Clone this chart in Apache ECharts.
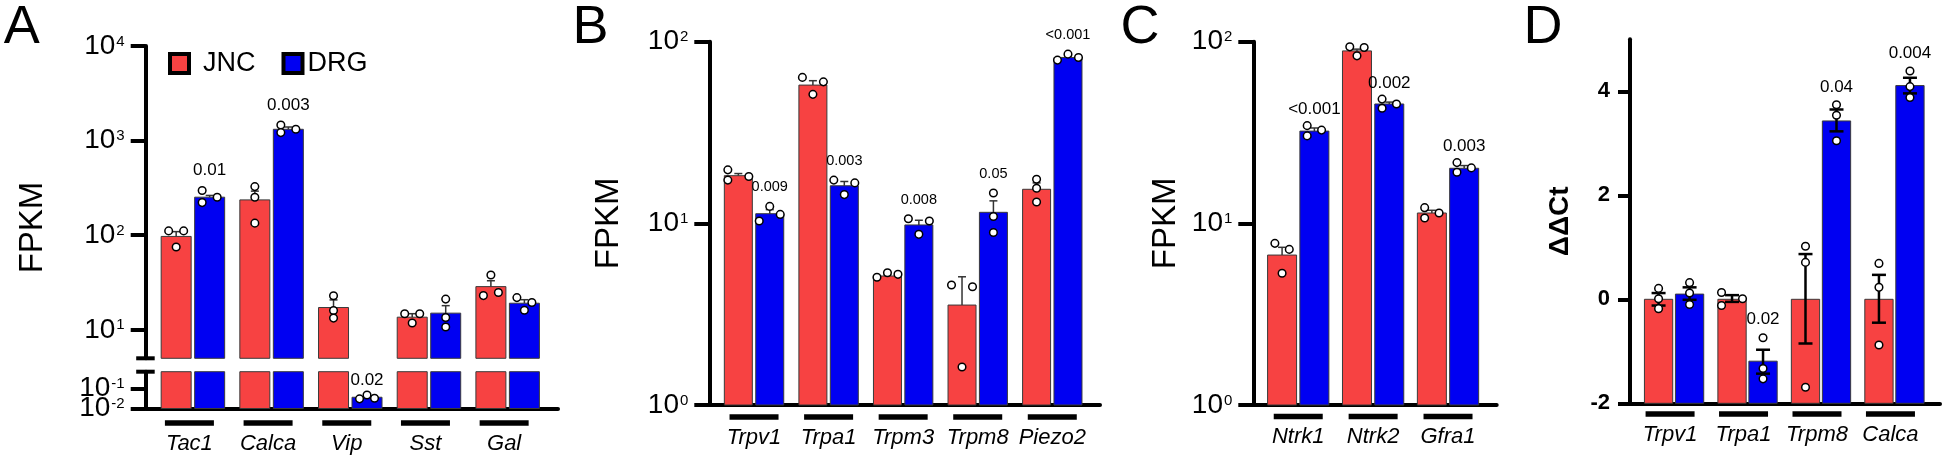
<!DOCTYPE html>
<html><head><meta charset="utf-8">
<script src="https://cdn.jsdelivr.net/npm/echarts@6/dist/echarts.min.js"></script>
<style>html,body{margin:0;padding:0;background:#fff}#c{width:1946px;height:458px}</style>
</head><body><div id="c"></div>
<script>
// ---------------- DATA ----------------
// Panel A (FPKM, broken log axis)
const catsA = ['Tac1', 'Calca', 'Vip', 'Sst', 'Gal'];
const jncA = [97, 236, 17.2, 13.6, 28.6];
const drgA = [252, 1315, 0.036, 15.0, 19.1];
const jncPtsA = [[111, 75, 111], [326, 252, 134], [22.9, 16.0, 13.3], [14.8, 11.8, 14.8], [23.0, 38.0, 24.8]];
const drgPtsA = [[296, 221, 252], [1462, 1213, 1315], [0.030, 0.047, 0.032], [21.1, 13.5, 10.7], [21.9, 16.1, 19.4]];
const jncErrA = [109, 292, 20.7, 14.8, 33];
const drgErrA = [263, 1390, 0.041, 18, 20.8];
const pA = ['0.01', '0.003', '0.02', '', ''];
const ticksA = [10, 100, 1000, 10000];
const ticksAlow = [0.0100001, 0.1];

// Panel B (FPKM, log)
const catsB = ['Trpv1', 'Trpa1', 'Trpm3', 'Trpm8', 'Piezo2'];
const jncB = [18.3, 57.7, 5.13, 3.55, 15.4];
const drgB = [11.3, 16.1, 9.8, 11.5, 81.9];
const jncPtsB = [[19.7, 17.3, 18.1], [63.6, 51.3, 60.1], [5.05, 5.35, 5.24], [4.58, 1.62, 4.48], [17.5, 15.6, 13.1]];
const drgPtsB = [[10.3, 12.4, 11.2], [17.3, 14.4, 16.7], [10.6, 8.7, 10.3], [14.7, 10.9, 8.9], [79.2, 85.4, 81.9]];
const jncErrB = [18.8, 61, 5.2, 5.08, 16.7];
const drgErrB = [11.9, 17.0, 10.4, 13.3, 83.5];
const pB = ['0.009', '0.003', '0.008', '0.05', '<0.001'];
const ticksB = [1, 10, 100];

// Panel C (FPKM, log)
const catsC = ['Ntrk1', 'Ntrk2', 'Gfra1'];
const jncC = [6.69, 89, 11.4];
const drgC = [32.2, 45.4, 20.1];
const jncPtsC = [[7.76, 5.31, 7.19], [93.7, 83.6, 93.0], [12.2, 10.7, 11.4]];
const drgPtsC = [[34.5, 30.3, 32.6], [48.3, 43.0, 45.4], [21.6, 19.1, 20.2]];
const jncErrC = [7.38, 91, 11.8];
const drgErrC = [33.5, 46.5, 20.8];
const pC = ['<0.001', '0.002', '0.003'];
const ticksC = [1, 10, 100];

// Panel D (ΔΔCt, linear)
const catsD = ['Trpv1', 'Trpa1', 'Trpm8', 'Calca'];
const jncD = [0, 0, 0, 0];
const drgD = [0.10, -1.19, 3.43, 4.11];
const jncPtsD = [[0.21, 0.01, -0.18], [0.13, -0.12, 0.01], [1.02, 0.71, -1.69], [0.69, 0.23, -0.88]];
const drgPtsD = [[0.32, 0.12, -0.10], [-0.74, -1.33, -1.53], [3.74, 3.54, 3.05], [4.39, 4.09, 3.88]];
const jncErrD = [[-0.12, 0.12], [-0.05, 0.08], [-0.85, 0.87], [-0.45, 0.47]];
const drgErrD = [[-0.01, 0.23], [-1.43, -0.97], [3.23, 3.65], [3.96, 4.26]];
const pD = ['', '0.02', '0.04', '0.004'];
const ticksD = [-2, 0, 2, 4];

// point placement within bar: -1 left, 0 centre, 1 right
const jncSlotsA = [[-1, 0, 1], [0, 0, 0], [0, 0, 0], [-1, 0, 1], [-1, 0, 1]];
const drgSlotsA = [[-1, -1, 1], [-1, -1, 1], [-1, 0, 1], [0, 0, 0], [-1, 0, 1]];
const jncSlotsB = [[-1, -1, 1], [-1, 0, 1], [-1, 0, 1], [-1, 0, 1], [0, 0, 0]];
const drgSlotsB = [[-1, 0, 1], [-1, 0, 1], [-1, 0, 1], [0, 0, 0], [-1, 0, 1]];
const jncSlotsC = [[-1, 0, 1], [-1, 0, 1], [-1, -1, 1]];
const drgSlotsC = [[-1, -1, 1], [-1, -1, 1], [-1, -1, 1]];
const jncSlotsD = [[0, 0, 0], [-1, -1, 1], [0, 0, 0], [0, 0, 0]];
const drgSlotsD = [[0, 0, 0], [0, 0, 0], [0, 0, 0], [0, 0, 0]];

// ---------------- STYLE / LAYOUT ----------------
const FONT = '"Liberation Sans", Arial, Helvetica, sans-serif';
const RED = '#F74242', BLUE = '#0000F2';

const panels = [
  { cats: catsA, jnc: jncA, drg: drgA, jncPts: jncPtsA, drgPts: drgPtsA, jncSlots: jncSlotsA, drgSlots: drgSlotsA,
    jncErr: jncErrA, drgErr: drgErrA, p: pA, log: true,
    xMin: -0.6, xMax: 4.64, barW: 30, gap: 3.5, spread: 7.5, pFont: 17,
    ulOff: 14.5, labOff: 35, labShift: -3.5, tickLen: 15,
    grids: [
      { left: 145.7, top: 45.9, width: 412.3, height: 312.4, yMin: 5, yMax: 10000, ticks: ticksA, labels: ticksA, xLine: false, capBottom: true, pOff: 20 },
      { left: 145.7, top: 371.7, width: 412.3, height: 36.8, yMin: 0.01, yMax: 0.664, ticks: ticksAlow, labels: [ticksAlow[0]], extraLabels: [ticksAlow[1]], xLine: true, capTop: true, pOff: 15 }
    ] },
  { cats: catsB, jnc: jncB, drg: drgB, jncPts: jncPtsB, drgPts: drgPtsB, jncSlots: jncSlotsB, drgSlots: drgSlotsB,
    jncErr: jncErrB, drgErr: drgErrB, p: pB, log: true,
    xMin: -0.6, xMax: 4.64, barW: 28, gap: 3.4, spread: 10.5, pFont: 14.5,
    ulOff: 12, labOff: 33.3, labShift: 0, tickLen: 15, name: 'FPKM', nameGap: 84,
    grids: [{ left: 709.3, top: 41.7, width: 390.7, height: 363.3, yMin: 1, yMax: 100, ticks: ticksB, labels: ticksB, xLine: true, pOff: 19 }] },
  { cats: catsC, jnc: jncC, drg: drgC, jncPts: jncPtsC, drgPts: drgPtsC, jncSlots: jncSlotsC, drgSlots: drgSlotsC,
    jncErr: jncErrC, drgErr: drgErrC, p: pC, log: true,
    xMin: -0.6, xMax: 2.65, barW: 29, gap: 3.3, spread: 7.2, pFont: 17,
    ulOff: 11.5, labOff: 31.7, labShift: 0, tickLen: 15, name: 'FPKM', nameGap: 71,
    grids: [{ left: 1253.3, top: 41.7, width: 243.4, height: 363.3, yMin: 1, yMax: 100, ticks: ticksC, labels: ticksC, xLine: true, pOff: 16 }] },
  { cats: catsD, jnc: jncD, drg: drgD, jncPts: jncPtsD, drgPts: drgPtsD, jncSlots: jncSlotsD, drgSlots: drgSlotsD,
    jncErr: jncErrD, drgErr: drgErrD, p: pD, log: false,
    xMin: -0.6, xMax: 3.62, barW: 28.3, gap: 2.7, spread: 10.5, pFont: 17,
    ulOff: 10.7, labOff: 31.7, labShift: -4, tickLen: 12, name: 'ΔΔCt', nameGap: 56,
    grids: [{ left: 1630, top: 39.3, width: 310, height: 364, yMin: -2, yMax: 5, ticks: ticksD, labels: ticksD, xLine: true, pOff: 18 }] }
];

// ---------------- BUILD ----------------
const option = { animation: false, backgroundColor: '#fff', grid: [], xAxis: [], yAxis: [], series: [] };
const empty = { type: 'group', children: [] };

function inRange(v, g) { return v >= g.yMin - 1e-9 && v <= g.yMax + 1e-9; }
function clampV(v, g) { return Math.min(Math.max(v, g.yMin), g.yMax); }

function makeYAxis(P, g, gi, labels, showLine, showTicks) {
  const y = {
    type: P.log ? 'log' : 'value', gridIndex: gi, position: 'left', offset: 0, min: g.yMin, max: g.yMax, logBase: 10,
    axisLine: { show: showLine, onZero: false, lineStyle: { color: '#000', width: 4 } },
    axisTick: { show: showTicks, customValues: g.ticks, length: P.tickLen, lineStyle: { color: '#000', width: 4 } },
    splitLine: { show: false },
    axisLabel: {
      show: true, customValues: labels, margin: P.log ? 21 : 20, color: '#000', fontFamily: FONT,
      hideOverlap: false, showMinLabel: true, showMaxLabel: true
    }
  };
  if (!P.log) { y.interval = 2; }
  if (P.log) {
    y.axisLabel.formatter = v => '{b|10}{s|' + Math.round(Math.log10(v)) + '}';
    y.axisLabel.rich = {
      b: { fontSize: 28, fontFamily: FONT, color: '#000' },
      s: { fontSize: 15, fontFamily: FONT, color: '#000', verticalAlign: 'top', padding: [2, 0, 0, 1] }
    };
  } else {
    y.axisLabel.fontSize = 22; y.axisLabel.fontWeight = 'bold';
  }
  return y;
}

panels.forEach(P => {
  P.grids.forEach(g => {
    const gi = option.grid.length;
    option.grid.push({ left: g.left, top: g.top, width: g.width, height: g.height, containLabel: false, outerBoundsMode: 'none' });
    const xi = option.xAxis.length;
    option.xAxis.push({
      type: 'value', gridIndex: gi, position: 'bottom', min: P.xMin, max: P.xMax,
      axisLine: { show: g.xLine, onZero: false, lineStyle: { color: '#000', width: 4 } },
      axisTick: { show: false }, axisLabel: { show: false }, splitLine: { show: false }
    });
    const yi = option.yAxis.length;
    const y = makeYAxis(P, g, gi, g.labels, true, true);
    if (P.name) {
      y.name = P.name; y.nameLocation = 'middle'; y.nameGap = P.nameGap; y.nameRotate = 90;
      y.nameTextStyle = { fontSize: P.log ? 33 : 28, fontWeight: P.log ? 'normal' : 'bold', color: '#000', fontFamily: FONT };
    }
    option.yAxis.push(y);
    if (g.extraLabels) {
      // second label-only axis (same side, same scale) so both squeezed tick labels are shown
      option.yAxis.push(makeYAxis(P, g, gi, g.extraLabels, false, false));
    }

    const off = P.gap / 2 + P.barW / 2;
    const axes = { xAxisIndex: xi, yAxisIndex: yi };

    // bars
    [['JNC', RED, P.jnc, -1], ['DRG', BLUE, P.drg, 1]].forEach(([name, color, vals, sign]) => {
      option.series.push(Object.assign({
        type: 'custom', name, z: 2, itemStyle: { color },
        data: vals.map((v, i) => [i, v]),
        renderItem(params, api) {
          const i = api.value(0), v = api.value(1);
          const vc = clampV(v, g);
          if (vc <= g.yMin) return empty;
          const top = api.coord([i, vc]), base = api.coord([i, g.yMin]);
          const cx = top[0] + sign * off;
          return { type: 'rect', shape: { x: cx - P.barW / 2, y: top[1], width: P.barW, height: base[1] - top[1] },
            style: { fill: color, stroke: '#3a3a3a', lineWidth: 1 } };
        }
      }, axes));
    });

    // error bars
    [[P.jncErr, P.jnc, -1], [P.drgErr, P.drg, 1]].forEach(([errs, means, sign]) => {
      const data = errs.map((e, i) => P.log ? [i, means[i], e, 0] : [i, e[0], e[1], 1]);
      option.series.push(Object.assign({
        type: 'custom', z: 3, silent: true, data,
        renderItem(params, api) {
          const i = api.value(0), lo = api.value(1), hi = api.value(2), both = api.value(3);
          if (!(hi > lo)) return empty;
          if (lo > g.yMax || hi < g.yMin) return empty;
          const a = api.coord([i, clampV(lo, g)]), b = api.coord([i, clampV(hi, g)]);
          const cx = a[0] + sign * off;
          const lw = P.log ? 1.5 : 2.5, cw = P.log ? 8 : 14, col = P.log ? '#333' : '#000';
          const ch = [{ type: 'line', shape: { x1: cx, y1: a[1], x2: cx, y2: b[1] }, style: { stroke: col, lineWidth: lw } }];
          if (inRange(hi, g)) ch.push({ type: 'line', shape: { x1: cx - cw / 2, y1: b[1], x2: cx + cw / 2, y2: b[1] }, style: { stroke: col, lineWidth: lw } });
          if (both && inRange(lo, g)) ch.push({ type: 'line', shape: { x1: cx - cw / 2, y1: a[1], x2: cx + cw / 2, y2: a[1] }, style: { stroke: col, lineWidth: lw } });
          return { type: 'group', children: ch };
        }
      }, axes));
    });

    // points
    [[P.jncPts, P.jncSlots, -1], [P.drgPts, P.drgSlots, 1]].forEach(([pts, slots, sign]) => {
      const data = [];
      pts.forEach((arr, i) => arr.forEach((v, k) => data.push([i, v, slots[i][k]])));
      option.series.push(Object.assign({
        type: 'custom', z: 4, silent: true, data,
        renderItem(params, api) {
          const i = api.value(0), v = api.value(1), s = api.value(2);
          if (!inRange(v, g)) return empty;
          const c = api.coord([i, v]);
          return { type: 'circle', shape: { cx: c[0] + sign * off + s * P.spread, cy: c[1], r: 3.8 },
            style: { fill: '#fff', stroke: '#000', lineWidth: 1.5 } };
        }
      }, axes));
    });

    // p-value labels (above DRG bar)
    const pData = [];
    P.p.forEach((t, i) => {
      if (!t) return;
      const errTop = P.log ? P.drgErr[i] : P.drgErr[i][1];
      const anchor = Math.max(errTop, ...P.drgPts[i], P.drg[i]);
      if (inRange(anchor, g)) pData.push([i, anchor, t]);
    });
    option.series.push(Object.assign({
      type: 'custom', z: 5, silent: true, data: pData,
      renderItem(params, api) {
        const d = pData[params.dataIndex];
        const c = api.coord([d[0], d[1]]);
        return { type: 'text', x: c[0] + off, y: c[1] - g.pOff,
          style: { text: d[2], font: P.pFont + 'px ' + FONT, fill: '#000', textAlign: 'center', textVerticalAlign: 'middle', align: 'center', verticalAlign: 'middle' } };
      }
    }, axes));

    // gene labels with underline
    if (g.xLine) {
      option.series.push(Object.assign({
        type: 'custom', z: 5, silent: true, data: P.cats.map((c, i) => [i, g.yMin]),
        renderItem(params, api) {
          const i = api.value(0);
          const c = api.coord([i, g.yMin]);
          const x = c[0] + P.labShift;
          return { type: 'group', children: [
            { type: 'rect', shape: { x: x - 24.5, y: c[1] + P.ulOff - 2.7, width: 49, height: 5.4 }, style: { fill: '#000' } },
            { type: 'text', x: x, y: c[1] + P.labOff,
              style: { text: P.cats[i], font: 'italic 22px ' + FONT, fill: '#000', textAlign: 'center', textVerticalAlign: 'middle', align: 'center', verticalAlign: 'middle' } }
          ] };
        }
      }, axes));
    }

    // axis-break caps (panel A)
    if (g.capBottom || g.capTop) {
      option.series.push(Object.assign({
        type: 'custom', z: 6, silent: true, data: [[P.xMin, g.capBottom ? g.yMin : g.yMax]],
        renderItem(params, api) {
          const c = api.coord([api.value(0), api.value(1)]);
          return { type: 'line', shape: { x1: c[0] - 9.5, y1: c[1], x2: c[0] + 9, y2: c[1] }, style: { stroke: '#000', lineWidth: 4 } };
        }
      }, axes));
    }
  });
});

option.legend = {
  left: 163, top: 45, itemWidth: 19, itemHeight: 19, itemGap: 26, selectedMode: false,
  data: [
    { name: 'JNC', icon: 'rect', itemStyle: { color: RED, borderColor: '#000', borderWidth: 4 } },
    { name: 'DRG', icon: 'rect', itemStyle: { color: BLUE, borderColor: '#000', borderWidth: 4 } }
  ],
  formatter: n => n === 'JNC' ? '{j|JNC}' : '{d|DRG}',
  textStyle: { fontSize: 27, color: '#000', fontFamily: FONT,
    rich: { j: { fontSize: 27, fontFamily: FONT, color: '#000', padding: [0, 0, 0, 9] },
            d: { fontSize: 27, fontFamily: FONT, color: '#000' } } }
};

function txt(t, x, y, size, opts) {
  return Object.assign({ type: 'text', x, y, silent: true,
    style: Object.assign({ text: t, font: size + 'px ' + FONT, fill: '#000', textAlign: 'center', textVerticalAlign: 'middle', align: 'center', verticalAlign: 'middle' }, (opts && opts.style) || {}) },
    (opts && opts.el) || {});
}
option.graphic = [
  txt('A', 21.7, 28.5, 54), txt('B', 590.5, 28.5, 54), txt('C', 1140, 28.5, 54), txt('D', 1543, 28.5, 54),
  txt('FPKM', 32.5, 227.5, 33, { el: { rotation: Math.PI / 2 } })
];

const chart = echarts.init(document.getElementById('c'), null, { renderer: 'canvas' });
chart.setOption(option);
</script></body></html>
